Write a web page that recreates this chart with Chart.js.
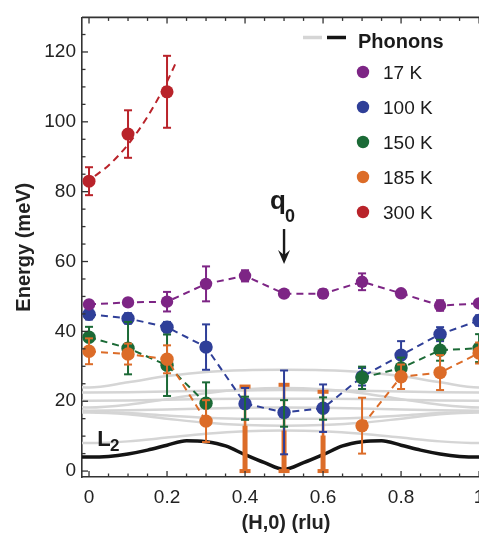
<!DOCTYPE html>
<html><head><meta charset="utf-8">
<script src="https://cdn.jsdelivr.net/npm/chart.js@4.4.1/dist/chart.umd.min.js"></script>
<style>
html,body{margin:0;padding:0;overflow:hidden;background:#fff;width:479px;height:535px}
#wrap{width:500px;height:535px}
</style></head>
<body><div id="wrap"><canvas id="c" width="500" height="535"></canvas></div>
<script>
// ---------- data ----------
const H = [0, 0.1, 0.2, 0.3, 0.4, 0.5, 0.6, 0.7, 0.8, 0.9, 1.0];
const E17 = [47.7, 48.3, 48.5, 53.6, 55.9, 50.8, 50.8, 54.2, 50.9, 47.4, 48.0];
const dE17 = [1.0, 1.0, 2.8, 5.0, 1.6, 0.8, 1.2, 2.4, 0.8, 1.5, 1.0];
const E100 = [44.9, 43.7, 41.2, 35.5, 19.3, 16.8, 18.0, 27.0, 33.2, 39.2, 43.1];
const dE100 = [1.5, 1.5, 1.5, 6.5, 4.5, 12.0, 6.8, 2.5, 4.0, 2.0, 1.5];
const E150 = [38.3, 35.2, 30.3, 19.4, null, null, null, 26.7, 29.5, 34.6, 35.2];
const dE150 = [3.0, 7.5, 8.8, 6.0, null, null, null, 3.2, 3.0, 3.0, 4.0];
const H150b = [0.4, 0.5, 0.6];
const E150b = [18.0, 16.5, 17.9];
const dE150b = [3.3, 3.8, 3.2];
const E185 = [34.3, 33.5, 32.0, 14.3, null, null, null, 13.0, 27.0, 28.2, 33.8];
const dE185 = [3.7, 3.0, 4.0, 6.0, null, null, null, 8.0, 3.5, 5.0, 3.0];
const H185r = [0.4, 0.5, 0.6];
const E185rLow = [0, 0, 0];
const E185rHigh = [24.2, 24.7, 22.7];
const E185rThick = [13.0, 11.6, 10.2];
const H300 = [0, 0.1, 0.2];
const E300 = [83.0, 96.5, 108.6];
const dE300 = [4.0, 6.8, 10.3];
const H300fit = [0.015, 0.05, 0.1, 0.15, 0.2, 0.225];
const E300fit = [84.5, 87.5, 93.5, 101.5, 111.5, 117.5];

// phonon dispersion curves
const Hph = [-0.1, 0, 0.1, 0.2, 0.3, 0.4, 0.5, 0.6, 0.7, 0.8, 0.9, 1.0, 1.1];
const phA = [25.4, 23.9, 25.4, 27.2, 28.4, 28.9, 29.0, 28.9, 28.4, 27.2, 25.4, 23.9, 25.4];
const phB = [22.6, 22.5, 22.6, 22.8, 23.0, 23.1, 23.2, 23.1, 23.0, 22.8, 22.6, 22.5, 22.6];
const phC = [20.2, 20.1, 20.2, 20.4, 20.6, 20.7, 20.7, 20.7, 20.6, 20.4, 20.2, 20.1, 20.2];
const phD = [19.0, 18.2, 19.0, 20.6, 22.3, 23.4, 23.8, 23.4, 22.3, 20.6, 19.0, 18.2, 19.0];
const phE = [17.4, 17.3, 17.4, 17.6, 17.9, 18.1, 18.2, 18.1, 17.9, 17.6, 17.4, 17.3, 17.4];
const phF = [16.3, 16.8, 16.3, 15.0, 13.8, 13.2, 13.0, 13.2, 13.8, 15.0, 16.3, 16.8, 16.3];
const phG = [8.5, 8.0, 8.5, 9.6, 10.7, 11.4, 11.6, 11.4, 10.7, 9.6, 8.5, 8.0, 8.5];
const phH = [16.6, 17.0, 16.6, 15.9, 15.3, 15.0, 15.0, 15.0, 15.3, 15.9, 16.6, 17.0, 16.6];
const HL2 = [-0.1, -0.05, 0, 0.05, 0.1, 0.15, 0.2, 0.25, 0.3, 0.35, 0.4, 0.45, 0.5, 0.55, 0.6, 0.65, 0.7, 0.75, 0.8, 0.85, 0.9, 0.95, 1.0, 1.05, 1.1];
const EL2 = [4.9, 4.2, 4.0, 4.2, 4.9, 6.0, 7.4, 8.7, 8.4, 7.2, 4.7, 2.4, 0.5, 2.4, 4.7, 7.2, 8.4, 8.7, 7.4, 6.0, 4.9, 4.2, 4.0, 4.2, 4.9];

const xTicks = [0, 0.2, 0.4, 0.6, 0.8, 1.0];
const xTickLabels = ['0', '0.2', '0.4', '0.6', '0.8', '1'];
const yTicks = [0, 20, 40, 60, 80, 100, 120];
const yTickLabels = ['0', '20', '40', '60', '80', '100', '120'];

const legendLabels = ['17 K', '100 K', '150 K', '185 K', '300 K'];
const C17 = '#7d2585', C100 = '#2f3f98', C150 = '#1b6a36', C185 = '#dc6c28', C300 = '#b9232a';
const legendColors = [C17, C100, C150, C185, C300];
const GRAY = '#d5d5d5', BLACK = '#141414';

// ---------- helpers ----------
const pts = (xs, ys) => xs.map((x, i) => ({x, y: ys[i]}));
const symBars = (xs, ys, es, opt) => Object.assign({
  x: xs.filter((_, i) => ys[i] !== null),
  low: ys.map((v, i) => v === null ? null : v - es[i]).filter(v => v !== null),
  high: ys.map((v, i) => v === null ? null : v + es[i]).filter(v => v !== null)
}, opt);
const normalBar = {width: 2, capW: 8, capH: 2};

function series(label, xs, ys, es, color, order, radius) {
  return {
    label, data: pts(xs, ys), order,
    borderColor: color, borderWidth: 2, borderDash: [7, 5],
    pointRadius: radius, pointBackgroundColor: color, pointBorderWidth: 0,
    pointBorderColor: color, fill: false, tension: 0,
    bars: {color, sets: [symBars(xs, ys, es, normalBar)]}
  };
}
function phonon(ys, color, width, order) {
  return {
    label: 'ph', data: pts(ys === EL2 ? HL2 : Hph, ys), order,
    borderColor: color, borderWidth: width, pointRadius: 0,
    cubicInterpolationMode: 'monotone', fill: false
  };
}

const datasets = [
  {label: '300 K', data: pts(H300, E300), order: 1, showLine: false,
   pointRadius: 6.5, pointBackgroundColor: C300, pointBorderWidth: 0,
   bars: {color: C300, sets: [symBars(H300, E300, dE300, normalBar)]}},
  {label: '300 K fit', data: pts(H300fit, E300fit), order: 2,
   borderColor: C300, borderWidth: 2, borderDash: [7, 5], pointRadius: 0,
   cubicInterpolationMode: 'monotone', fill: false},
  series('17 K', H, E17, dE17, C17, 3, 6.2),
  series('185 K', H, E185, dE185, C185, 4, 6.7),
  series('150 K', H, E150, dE150, C150, 5, 6.7),
  {label: '150 K b', data: pts(H150b, E150b), order: 5.5, showLine: false, pointRadius: 0,
   bars: {color: C150, sets: [symBars(H150b, E150b, dE150b, normalBar)]}},
  series('100 K', H, E100, dE100, C100, 6, 6.7),
  {label: '185 K range', data: pts(H185r, E185rThick), order: 7, showLine: false, pointRadius: 0,
   bars: {color: C185, sets: [
     {x: H185r, low: E185rLow, high: E185rHigh, width: 2.6, capW: 11, capH: 4},
     {x: H185r, low: E185rLow, high: E185rThick, width: 5, capW: 0, capH: 0}
   ]}},
  phonon(EL2, BLACK, 3.5, 8),
  phonon(phA, GRAY, 2.5, 9),
  phonon(phB, GRAY, 2.5, 9),
  phonon(phC, GRAY, 2.5, 9),
  phonon(phD, GRAY, 2.5, 9),
  phonon(phE, GRAY, 2.5, 9),
  phonon(phF, GRAY, 2.5, 9),
  phonon(phG, GRAY, 2.5, 9),
  phonon(phH, GRAY, 2.5, 9)
];

// ---------- plugins ----------
const errorBarPlugin = {
  id: 'errbars',
  beforeDatasetDraw(chart, args) {
    const ds = chart.data.datasets[args.index];
    if (!ds.bars) return;
    const {ctx, chartArea: a, scales: {x, y}} = chart;
    ctx.save();
    ctx.beginPath(); ctx.rect(a.left, a.top, a.right - a.left, a.bottom - a.top + 3); ctx.clip();
    ctx.strokeStyle = ds.bars.color; ctx.fillStyle = ds.bars.color;
    ds.bars.sets.forEach(b => {
      b.x.forEach((xv, i) => {
        const px = x.getPixelForValue(xv);
        const top = y.getPixelForValue(b.high[i]);
        const bot = y.getPixelForValue(b.low[i]);
        ctx.lineWidth = b.width;
        ctx.beginPath(); ctx.moveTo(px, top); ctx.lineTo(px, bot); ctx.stroke();
        if (b.capW) {
          ctx.fillRect(px - b.capW / 2, top - b.capH / 2, b.capW, b.capH);
          ctx.fillRect(px - b.capW / 2, bot - b.capH / 2, b.capW, b.capH);
        }
      });
    });
    ctx.restore();
  }
};

const annotPlugin = {
  id: 'annot',
  afterDatasetsDraw(chart) {
    const {ctx, scales: {x, y}} = chart;
    ctx.save();
    ctx.fillStyle = '#1a1a1a'; ctx.strokeStyle = '#1a1a1a';
    ctx.textBaseline = 'alphabetic'; ctx.textAlign = 'left';
    // q0 arrow at H = 0.5
    const qx = x.getPixelForValue(0.5);
    ctx.font = 'bold 26px "Liberation Sans", Arial, sans-serif';
    ctx.fillText('q', qx - 14, y.getPixelForValue(74.9));
    ctx.font = 'bold 18px "Liberation Sans", Arial, sans-serif';
    ctx.fillText('0', qx + 1, y.getPixelForValue(71.2));
    const yTop = y.getPixelForValue(69.3), yTip = y.getPixelForValue(59.3);
    ctx.lineWidth = 2.4;
    ctx.beginPath(); ctx.moveTo(qx, yTop); ctx.lineTo(qx, yTip - 8); ctx.stroke();
    ctx.beginPath(); ctx.moveTo(qx - 6, yTip - 14); ctx.lineTo(qx, yTip); ctx.lineTo(qx + 6, yTip - 14);
    ctx.lineTo(qx, yTip - 9); ctx.closePath(); ctx.fill();
    // L2 label
    ctx.font = 'bold 22px "Liberation Sans", Arial, sans-serif';
    ctx.fillText('L', x.getPixelForValue(0.021), y.getPixelForValue(7.2));
    ctx.font = 'bold 17px "Liberation Sans", Arial, sans-serif';
    ctx.fillText('2', x.getPixelForValue(0.054), y.getPixelForValue(5.8));
    ctx.restore();
  }
};

const legendPlugin = {
  id: 'customLegend',
  afterDatasetsDraw(chart) {
    const ctx = chart.ctx;
    ctx.save();
    ctx.lineCap = 'butt';
    ctx.lineWidth = 3.5;
    ctx.strokeStyle = GRAY;
    ctx.beginPath(); ctx.moveTo(303, 37.5); ctx.lineTo(322, 37.5); ctx.stroke();
    ctx.strokeStyle = BLACK;
    ctx.beginPath(); ctx.moveTo(327, 37.5); ctx.lineTo(346, 37.5); ctx.stroke();
    ctx.fillStyle = '#1a1a1a';
    ctx.textBaseline = 'alphabetic'; ctx.textAlign = 'left';
    ctx.font = 'bold 20px "Liberation Sans", Arial, sans-serif';
    ctx.fillText('Phonons', 358, 48);
    ctx.font = '19px "Liberation Sans", Arial, sans-serif';
    legendLabels.forEach((t, i) => {
      const cy = 72 + 35 * i;
      ctx.fillStyle = legendColors[i];
      ctx.beginPath(); ctx.arc(363, cy, 6.2, 0, Math.PI * 2); ctx.fill();
      ctx.fillStyle = '#1a1a1a';
      ctx.fillText(t, 383, cy + 6.5);
    });
    ctx.restore();
  }
};

const framePlugin = {
  id: 'frame',
  afterDraw(chart) {
    const {ctx, chartArea: a, scales: {x, y}} = chart;
    ctx.save();
    ctx.strokeStyle = '#333';
    ctx.lineWidth = 1.6;
    ctx.beginPath(); ctx.moveTo(a.left, a.top); ctx.lineTo(a.right, a.top); ctx.stroke();
    ctx.lineWidth = 1.3;
    const seg = (x1, y1, x2, y2) => { ctx.beginPath(); ctx.moveTo(x1, y1); ctx.lineTo(x2, y2); ctx.stroke(); };
    for (let k = 0; k <= 20; k++) {
      const px = x.getPixelForValue(k * 0.05);
      const L = k % 4 === 0 ? 6 : 3.5;
      seg(px, a.bottom, px, a.bottom - L);
      seg(px, a.top, px, a.top + L);
    }
    for (let k = 0; k <= 25; k++) {
      const py = y.getPixelForValue(k * 5);
      const L = k % 4 === 0 ? 6 : 3.5;
      seg(a.left, py, a.left + L, py);
    }
    ctx.restore();
  }
};

// ---------- chart ----------
Chart.defaults.font.family = '"Liberation Sans", Arial, Helvetica, sans-serif';
Chart.defaults.color = '#222';

new Chart(document.getElementById('c'), {
  type: 'line',
  data: {datasets},
  options: {
    responsive: false, animation: false, events: [], devicePixelRatio: 1,
    parsing: true,
    layout: {padding: {top: 13, right: 10, bottom: 0, left: 0}},
    plugins: {legend: {display: false}, tooltip: {enabled: false}},
    scales: {
      x: {
        type: 'linear', min: -0.018, max: 1.028,
        grid: {display: false, drawTicks: false},
        border: {display: true, color: '#333', width: 1.6},
        afterBuildTicks: s => { s.ticks = xTicks.map(v => ({value: v})); },
        afterFit: s => { s.height = 58; },
        ticks: {callback: (v, i) => xTickLabels[i], padding: 9, font: {size: 19}, color: '#222',
                maxRotation: 0, autoSkip: false},
        title: {display: true, text: '(H,0) (rlu)', color: '#222',
                font: {size: 20, weight: 'bold'}, padding: {top: 0, bottom: 0}}
      },
      y: {
        type: 'linear', min: -1.7, max: 129.9,
        grid: {display: false, drawTicks: false},
        border: {display: true, color: '#333', width: 1.6},
        afterBuildTicks: s => { s.ticks = yTicks.map(v => ({value: v})); },
        afterFit: s => { s.width = 82; },
        ticks: {callback: (v, i) => yTickLabels[i], padding: 6, font: {size: 19}, color: '#222', autoSkip: false},
        title: {display: true, text: 'Energy (meV)', color: '#222',
                font: {size: 20, weight: 'bold'}, padding: {top: 12, bottom: 0}}
      }
    }
  },
  plugins: [errorBarPlugin, annotPlugin, legendPlugin, framePlugin]
});
</script>
</body></html>
